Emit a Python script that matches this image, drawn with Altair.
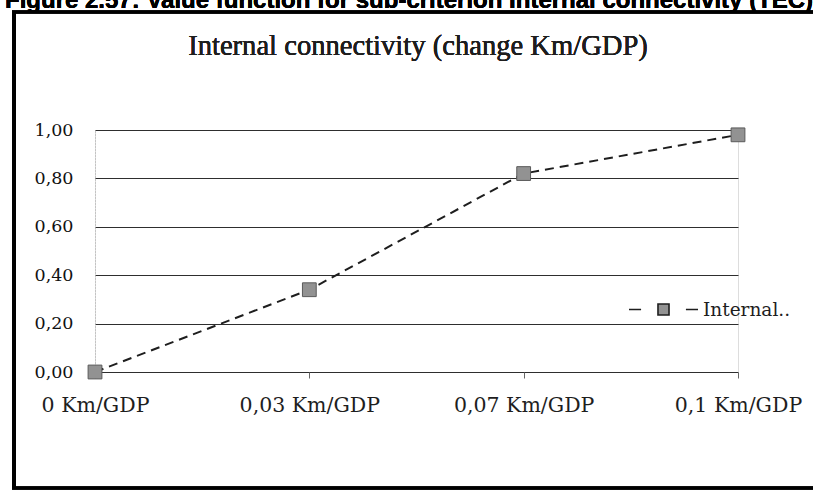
import altair as alt
import pandas as pd

# Value function for the "internal connectivity" sub-criterion
categories = ["0 Km/GDP", "0,03 Km/GDP", "0,07 Km/GDP", "0,1 Km/GDP"]
values = [0.00, 0.34, 0.82, 0.98]
series = ["Internal.."] * len(categories)

df = pd.DataFrame({"cat": categories, "value": values, "series": series})

SERIF = "DejaVu Serif"
INK = "#1e1e1e"

x_enc = alt.X(
    "cat:N",
    sort=categories,
    scale=alt.Scale(type="point", padding=0),
    axis=alt.Axis(
        title=None, labelAngle=0, labelFont=SERIF, labelFontSize=20.5,
        labelColor=INK, labelPadding=17, tickSize=6, tickColor="#666",
        domain=False, grid=False,
    ),
)
y_enc = alt.Y(
    "value:Q",
    scale=alt.Scale(domain=[0, 1], nice=False),
    axis=alt.Axis(
        title=None, values=[0, 0.2, 0.4, 0.6, 0.8, 1.0],
        labelExpr="replace(format(datum.value, '.2f'), '.', ',')",
        labelFont=SERIF, labelFontSize=17.5, labelColor="#111", labelPadding=22,
        ticks=False, grid=True, gridColor="#2e2e2e", gridWidth=1,
        domain=True, domainColor="#aaaaaa", domainDash=[1, 2], domainWidth=1,
    ),
)

line = alt.Chart(df).mark_line(
    color=INK, strokeWidth=2, strokeDash=[9, 6]
).encode(x=x_enc, y=y_enc)

points = alt.Chart(df).mark_point(
    shape="square", filled=True, size=190, stroke="#5a5a5a", strokeWidth=1, opacity=1
).encode(
    x=x_enc,
    y=y_enc,
    fill=alt.Fill(
        "series:N",
        scale=alt.Scale(range=["#929292"]),
        legend=alt.Legend(
            title=None, orient="none", legendX=533, legendY=144,
            symbolType="M-1,0H-0.65M-0.16,-0.16H0.16V0.16H-0.16ZM0.65,0H1",
            symbolSize=4761, symbolStrokeColor=INK, symbolStrokeWidth=1.6,
            symbolFillColor="#929292", labelFont=SERIF, labelFontSize=18.5,
            labelColor=INK, labelOffset=4,
        ),
    ),
)

# chart-area frame, chart heading and the clipped caption above the frame
frame_left = alt.Chart(df).mark_rule(color="#000", strokeWidth=4).encode(
    x=alt.value(-81), y=alt.value(-118), y2=alt.value(358)
)
frame_top = alt.Chart(df).mark_rule(color="#000", strokeWidth=3).encode(
    x=alt.value(-83), x2=alt.value(720), y=alt.value(-118)
)
frame_bottom = alt.Chart(df).mark_rule(color="#000", strokeWidth=3).encode(
    x=alt.value(-83), x2=alt.value(720), y=alt.value(358)
)
heading = alt.Chart(df).mark_text(
    text="Internal connectivity (change Km/GDP)",
    font="Liberation Serif", fontSize=28.6, align="center",
    baseline="alphabetic", color=INK,
).encode(x=alt.value(323), y=alt.value(-75))
caption = alt.Chart(df).mark_text(
    text="Figure 2.57: Value function for sub-criterion Internal connectivity (TEC)",
    font="Liberation Sans", fontWeight="bold", fontSize=24, align="left",
    baseline="alphabetic", color="#000",
).encode(x=alt.value(-90), y=alt.value(-122))

chart = alt.layer(
    frame_left, frame_top, frame_bottom, caption, heading, line, points
).properties(
    width=643,
    height=242,
    padding={"left": 95, "top": 130, "right": 75, "bottom": 130},
    autosize=alt.AutoSizeParams(type="none"),
).configure_view(stroke=None).configure(background="white")

chart.save("out.html", embed_options={"renderer": "svg", "actions": False})
